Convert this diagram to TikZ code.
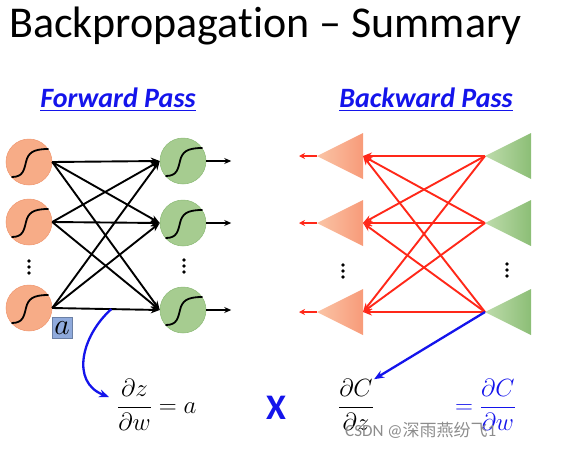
\documentclass[tikz,border=0pt]{standalone}
\usepackage{amsmath}
\usepackage{graphicx}
\usepackage{fontspec}
\setmainfont{Carlito}[Ligatures=NoCommon]
\newfontfamily\cjk{Noto Sans CJK SC}
\usetikzlibrary{arrows.meta,calc}

\definecolor{orangeFill}{RGB}{247,172,135}
\definecolor{orangeEdge}{RGB}{240,150,110}
\definecolor{orangeLight}{RGB}{250,196,166}
\definecolor{greenFill}{RGB}{166,204,144}
\definecolor{greenEdge}{RGB}{140,186,118}
\definecolor{greenLight}{RGB}{190,220,172}
\definecolor{greenDark}{RGB}{140,190,118}
\definecolor{backRed}{RGB}{255,40,25}
\definecolor{titleBlue}{RGB}{20,20,235}
\definecolor{boxBlue}{RGB}{143,170,220}
\definecolor{markGray}{RGB}{140,140,140}

\begin{document}
\begin{tikzpicture}[
    x=1pt, y=-1pt,
    neuronin/.style={circle, draw=orangeEdge, fill=orangeFill, minimum size=46pt, inner sep=0pt, line width=0.5pt},
    neuronout/.style={circle, draw=greenEdge, fill=greenFill, minimum size=46pt, inner sep=0pt, line width=0.5pt},
    sigline/.style={line width=1.8pt, line cap=round},
    fwd/.style={line width=1.9pt, -{Stealth[length=9pt,width=7pt]}},
    bwd/.style={draw=backRed, line width=1.9pt, -{Stealth[length=9pt,width=7pt]}},
    pick/.style={draw=titleBlue, line width=2.3pt, -{Stealth[length=10pt,width=8pt]}},
    passtitle/.style={text=titleBlue, font=\fontsize{28}{32}\selectfont\bfseries\itshape, anchor=base},
    formula/.style={font=\fontsize{24}{28}\selectfont, inner sep=0pt}
]

\useasboundingbox (0,0) rectangle (580,450);

% title
\node[anchor=base west, font=\fontsize{44}{50}\selectfont, inner sep=0pt] (title) at (9,37) {Backpropagation -- Summary};

% forward pass
\node[passtitle] (fwdtitle) at (118,107) {\underline{Forward Pass}};

\node[neuronin] (f1) at (29,162) {};
\node[neuronin] (f2) at (29,222) {};
\node[neuronin] (f3) at (29,308) {};
\node[neuronout] (g1) at (183,161) {};
\node[neuronout] (g2) at (183,223) {};
\node[neuronout] (g3) at (183,310) {};

\foreach \n in {f1,f2,f3,g1,g2,g3}
  \draw[sigline] ($(\n)+(-17,15)$) .. controls ($(\n)+(-6,15)$) and ($(\n)+(-5,8)$) .. ($(\n)+(-3,0)$)
                 .. controls ($(\n)+(-1,-9)$) and ($(\n)+(4,-13)$) .. ($(\n)+(19,-13)$);

\foreach \i in {1,2,3}
  \foreach \j in {1,2,3}
    \draw[fwd] (f\i.east) -- (g\j.west);

\foreach \j in {1,2,3} {
  \coordinate (o\j) at ($(g\j.east)+(25,0)$);
  \draw[fwd, -{Stealth[length=7pt,width=6pt]}] (g\j.east) -- (o\j);
}

% dots
\foreach \x/\y in {29/261,184/260,343/265,507/264}
  \foreach \k in {0,6,12}
    \fill (\x,\y+\k) circle (1.8);

\node[draw=boxBlue!75!black, fill=boxBlue, minimum width=20pt, minimum height=21pt, inner sep=0pt,
      font=\fontsize{24}{24}\selectfont] (abox) at (62,328) {\scalebox{1.2}{$a$}};

% backward pass
\node[passtitle] (bwdtitle) at (426,107) {\underline{Backward Pass}};

\foreach \i/\y in {1/156,2/223,3/312} {
  \coordinate (ot\i) at (317,\y);
  \coordinate (ob\i) at (363,\y);
  \coordinate (oo\i) at (299,\y);
  \coordinate (gt\i) at (485,\y);
  \shade[left color=orangeLight, right color=orangeFill!90!red] (ot\i) -- (363,\y-23) -- (363,\y+23) -- cycle;
  \shade[left color=greenLight, right color=greenDark] (gt\i) -- (531,\y-23) -- (531,\y+23) -- cycle;
  \draw[bwd, -{Stealth[length=6pt,width=6pt]}] (ot\i) -- (oo\i);
}

\foreach \i in {1,2,3}
  \foreach \j in {1,2,3}
    \draw[bwd] (gt\i) -- (ob\j);

% formulas
\node[formula, anchor=west] (dzdw) at (117,405) {$\dfrac{\partial z}{\partial w} = a$};
\node[text=titleBlue, font=\fontsize{36}{40}\selectfont\bfseries, inner sep=0pt] (times) at (276,408) {X};
\node[formula] (dcdz) at (356,405) {$\dfrac{\partial C}{\partial z}$};
\node[formula, anchor=west, text=titleBlue] (dcdw) at (455,405) {$=\dfrac{\partial C}{\partial w}$};

\coordinate (apick) at ($(f3.east)!0.55!(g3.west)$);
\coordinate (aend) at ($(dzdw.west)+(-8,-8)$);
\draw[pick] (apick) .. controls (82,335) and (70,382) .. (aend);
\draw[pick] (gt3) -- (dcdz.north east);

% watermark
\node[anchor=west, text=markGray, font=\fontsize{17}{18}\selectfont, inner sep=0pt] (wmark) at (345,430) {CSDN @{\cjk 深雨燕纷飞}1};

\end{tikzpicture}
\end{document}
